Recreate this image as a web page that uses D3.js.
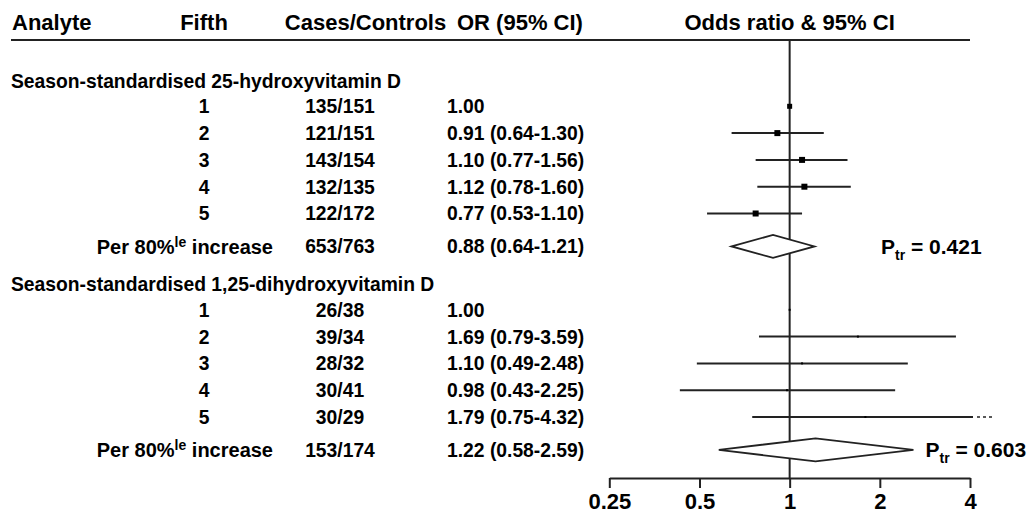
<!DOCTYPE html>
<html>
<head>
<meta charset="utf-8">
<script src="https://cdn.jsdelivr.net/npm/d3@7"></script>
<style>
  html, body { margin: 0; padding: 0; background: #fff; }
  svg { display: block; }
  text { font-family: "Liberation Sans", Arial, Helvetica, sans-serif; font-weight: bold; fill: #000; }
</style>
</head>
<body>
<script>
// ---- Data ----
const columnHeaders = ["Analyte", "Fifth", "Cases/Controls", "OR (95% CI)", "Odds ratio & 95% CI"];
const analytes = ["Season-standardised 25-hydroxyvitamin D", "Season-standardised 1,25-dihydroxyvitamin D"];
const fifths = ["1", "2", "3", "4", "5"];

const casesControls25 = ["135/151", "121/151", "143/154", "132/135", "122/172"];
const or25 = [1.00, 0.91, 1.10, 1.12, 0.77];
const lower25 = [null, 0.64, 0.77, 0.78, 0.53];
const upper25 = [null, 1.30, 1.56, 1.60, 1.10];
const trend25 = ["653/763", 0.88, 0.64, 1.21, "0.421"]; // cases/controls, OR, lower, upper, P for trend

const casesControls125 = ["26/38", "39/34", "28/32", "30/41", "30/29"];
const or125 = [1.00, 1.69, 1.10, 0.98, 1.79];
const lower125 = [null, 0.79, 0.49, 0.43, 0.75];
const upper125 = [null, 3.59, 2.48, 2.25, 4.32];
const trend125 = ["153/174", 1.22, 0.58, 2.59, "0.603"];

const axisTicks = [0.25, 0.5, 1, 2, 4];
const axisTickLabels = ["0.25", "0.5", "1", "2", "4"];

// ---- Layout ----
const W = 1027, H = 515;
const svg = d3.select("body").append("svg").attr("width", W).attr("height", H);

const x = d3.scaleLog().base(2).domain([0.25, 4]).range([609.3, 970]);
const fmt = d3.format(".2f");

const headerY = 30, ruleY = 40, axisY = 478;
const groupTop = [81, 284.5];
const rowStep = 26.8, firstRowGap = 25.3, trendGap = 32.9;
const colFifth = 204, colCC = 340, colOR = 447, trendLabelEnd = 273;
const bodySize = 19.3, headSize = 22;
const ink = "#222";

// column headers
const headX = [12, 204, 365.5, 457, x(1)];
const headAnchor = ["start", "middle", "middle", "start", "middle"];
svg.selectAll("text.head").data(columnHeaders).join("text")
  .attr("class", "head")
  .attr("x", (d, i) => headX[i]).attr("y", headerY)
  .attr("text-anchor", (d, i) => headAnchor[i])
  .style("font-size", headSize + "px")
  .text(d => d);

svg.append("line")
  .attr("x1", 11).attr("x2", 970).attr("y1", ruleY).attr("y2", ruleY)
  .attr("stroke", ink).attr("stroke-width", 2);

// reference line at OR = 1
svg.append("line")
  .attr("x1", x(1)).attr("x2", x(1)).attr("y1", ruleY).attr("y2", axisY)
  .attr("stroke", ink).attr("stroke-width", 2);

const groups = [
  { name: analytes[0], cc: casesControls25, or: or25, lo: lower25, hi: upper25, trend: trend25, box: [5, 6, 6, 6, 6] },
  { name: analytes[1], cc: casesControls125, or: or125, lo: lower125, hi: upper125, trend: trend125, box: [2, 2, 2, 2, 2] }
];

const xMax = x.range()[1];

groups.forEach((g, gi) => {
  const g0 = groupTop[gi];
  const rowY = i => g0 + firstRowGap + i * rowStep;
  const trendY = g0 + firstRowGap + 4 * rowStep + trendGap;
  const layer = svg.append("g");

  layer.append("text")
    .attr("x", 11).attr("y", g0).attr("dy", "0.36em")
    .style("font-size", bodySize + "px")
    .text(g.name);

  fifths.forEach((f, i) => {
    const y = rowY(i);
    layer.append("text").attr("x", colFifth).attr("y", y).attr("dy", "0.36em")
      .attr("text-anchor", "middle").style("font-size", bodySize + "px").text(f);
    layer.append("text").attr("x", colCC).attr("y", y).attr("dy", "0.36em")
      .attr("text-anchor", "middle").style("font-size", bodySize + "px").text(g.cc[i]);
    const orText = g.lo[i] === null ? fmt(g.or[i])
      : `${fmt(g.or[i])} (${fmt(g.lo[i])}-${fmt(g.hi[i])})`;
    layer.append("text").attr("x", colOR).attr("y", y).attr("dy", "0.36em")
      .style("font-size", bodySize + "px").text(orText);

    // confidence interval
    if (g.lo[i] !== null) {
      const clipped = g.hi[i] > x.domain()[1];
      const xr = clipped ? xMax + 3 : x(g.hi[i]);
      layer.append("line")
        .attr("x1", x(g.lo[i])).attr("x2", xr).attr("y1", y).attr("y2", y)
        .attr("stroke", ink).attr("stroke-width", 2);
      if (clipped) {
        layer.append("line")
          .attr("x1", xMax + 7).attr("x2", xMax + 23).attr("y1", y).attr("y2", y)
          .attr("stroke", ink).attr("stroke-width", 1.5)
          .attr("stroke-dasharray", "3,3");
      }
    }
    // point estimate
    const s = g.box[i];
    layer.append("rect")
      .attr("x", x(g.or[i]) - s / 2).attr("y", y - s / 2)
      .attr("width", s).attr("height", s)
      .attr("fill", "#000");
  });

  // per 80th percentile increase row
  const [tcc, tor, tlo, thi, tp] = g.trend;
  const per = layer.append("text").attr("x", trendLabelEnd).attr("y", trendY).attr("dy", "0.36em")
    .attr("text-anchor", "end").style("font-size", "20px");
  per.append("tspan").text("Per 80%");
  per.append("tspan").attr("dy", -7).style("font-size", "14px").text("le");
  per.append("tspan").attr("dy", 7).text(" increase");

  layer.append("text").attr("x", colCC).attr("y", trendY).attr("dy", "0.36em")
    .attr("text-anchor", "middle").style("font-size", bodySize + "px").text(tcc);
  layer.append("text").attr("x", colOR).attr("y", trendY).attr("dy", "0.36em")
    .style("font-size", bodySize + "px").text(`${fmt(tor)} (${fmt(tlo)}-${fmt(thi)})`);

  const dh = 11.5;
  layer.append("path")
    .attr("d", `M${x(tlo)},${trendY} L${x(tor)},${trendY - dh} L${x(thi)},${trendY} L${x(tor)},${trendY + dh} Z`)
    .attr("fill", "#fff").attr("stroke", ink).attr("stroke-width", 1.8);

  const px = Math.max(881, x(thi) + 12);
  const pt = layer.append("text").attr("x", px).attr("y", trendY).attr("dy", "0.36em")
    .style("font-size", "21px");
  pt.append("tspan").text("P");
  pt.append("tspan").attr("dy", 6).style("font-size", "14px").text("tr");
  pt.append("tspan").attr("dy", -6).text(" = " + tp);
});

// x axis
const axis = d3.axisBottom(x)
  .tickValues(axisTicks)
  .tickFormat((d, i) => axisTickLabels[i])
  .tickSize(10).tickSizeOuter(0).tickPadding(5);
const ax = svg.append("g").attr("transform", `translate(0,${axisY})`).call(axis);
ax.select(".domain").attr("stroke", ink).attr("stroke-width", 2);
ax.selectAll(".tick line").attr("stroke", ink).attr("stroke-width", 2);
ax.selectAll(".tick text")
  .style("font-size", "22px")
  .style("font-family", "'Liberation Sans', Arial, Helvetica, sans-serif")
  .style("font-weight", "bold").attr("fill", "#000");
</script>
</body>
</html>
